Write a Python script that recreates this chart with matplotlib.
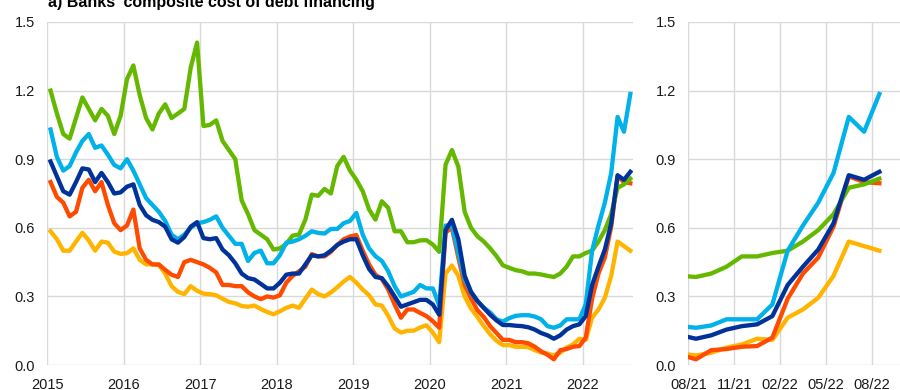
import numpy as np
import matplotlib.pyplot as plt

plt.rcParams['font.family'] = ['Liberation Sans', 'DejaVu Sans']

# monthly observations, Jan 2015 - Aug 2022
start_year = 2015
year_ticks = [2015, 2016, 2017, 2018, 2019, 2020, 2021, 2022]
zoom_ticks = ['08/21', '11/21', '02/22', '05/22', '08/22']

green = [1.20, 1.10, 1.01, 0.99, 1.08, 1.17, 1.12, 1.07, 1.12, 1.09,
         1.01, 1.09, 1.25, 1.31, 1.18, 1.08, 1.03, 1.10, 1.14, 1.08,
         1.10, 1.12, 1.30, 1.41, 1.045, 1.05, 1.07, 0.98, 0.94, 0.90,
         0.72, 0.66, 0.59, 0.57, 0.55, 0.505, 0.51, 0.53, 0.566, 0.57,
         0.636, 0.745, 0.74, 0.77, 0.75, 0.87, 0.91, 0.85, 0.81, 0.76,
         0.68, 0.636, 0.716, 0.687, 0.585, 0.585, 0.537, 0.537, 0.545, 0.546,
         0.527, 0.495, 0.876, 0.94, 0.868, 0.67, 0.60, 0.563, 0.54, 0.51,
         0.476, 0.436, 0.425, 0.415, 0.41, 0.40, 0.40, 0.396, 0.39, 0.385,
         0.40, 0.43, 0.475, 0.475, 0.49, 0.50, 0.54, 0.59, 0.66, 0.775,
         0.79, 0.815]

light_blue = [1.03, 0.91, 0.85, 0.87, 0.93, 0.98, 1.01, 0.95, 0.96, 0.92,
              0.875, 0.86, 0.90, 0.85, 0.79, 0.73, 0.70, 0.67, 0.63, 0.57,
              0.55, 0.57, 0.60, 0.62, 0.625, 0.635, 0.65, 0.60, 0.565, 0.53,
              0.53, 0.455, 0.49, 0.50, 0.445, 0.445, 0.48, 0.535, 0.54, 0.55,
              0.565, 0.585, 0.578, 0.575, 0.595, 0.595, 0.62, 0.63, 0.665, 0.57,
              0.51, 0.476, 0.455, 0.41, 0.345, 0.30, 0.31, 0.32, 0.35, 0.335,
              0.335, 0.26, 0.61, 0.61, 0.49, 0.375, 0.317, 0.28, 0.25, 0.23,
              0.20, 0.19, 0.205, 0.215, 0.218, 0.218, 0.212, 0.20, 0.17, 0.163,
              0.173, 0.20, 0.20, 0.20, 0.265, 0.50, 0.61, 0.71, 0.84, 1.085,
              1.02, 1.185]

dark_blue = [0.89, 0.825, 0.76, 0.745, 0.80, 0.86, 0.855, 0.80, 0.84, 0.80,
             0.75, 0.755, 0.78, 0.79, 0.70, 0.655, 0.635, 0.625, 0.605, 0.55,
             0.535, 0.56, 0.605, 0.625, 0.555, 0.55, 0.555, 0.505, 0.48, 0.445,
             0.40, 0.38, 0.374, 0.355, 0.335, 0.335, 0.36, 0.395, 0.40, 0.40,
             0.44, 0.48, 0.475, 0.48, 0.50, 0.525, 0.54, 0.55, 0.55, 0.48,
             0.42, 0.385, 0.38, 0.344, 0.30, 0.255, 0.265, 0.275, 0.285, 0.285,
             0.265, 0.22, 0.59, 0.635, 0.55, 0.39, 0.32, 0.28, 0.25, 0.22,
             0.195, 0.175, 0.175, 0.172, 0.17, 0.165, 0.155, 0.14, 0.13, 0.115,
             0.13, 0.155, 0.17, 0.178, 0.214, 0.35, 0.43, 0.505, 0.62, 0.83,
             0.81, 0.845]

red = [0.80, 0.735, 0.71, 0.65, 0.67, 0.775, 0.81, 0.76, 0.80, 0.70,
       0.62, 0.59, 0.61, 0.68, 0.51, 0.46, 0.44, 0.44, 0.416, 0.395,
       0.385, 0.45, 0.46, 0.45, 0.44, 0.425, 0.405, 0.35, 0.35, 0.345,
       0.345, 0.318, 0.30, 0.288, 0.30, 0.295, 0.305, 0.36, 0.39, 0.41,
       0.43, 0.485, 0.475, 0.475, 0.495, 0.525, 0.55, 0.562, 0.568, 0.50,
       0.44, 0.395, 0.376, 0.33, 0.265, 0.207, 0.243, 0.243, 0.228, 0.214,
       0.192, 0.163, 0.58, 0.60, 0.47, 0.35, 0.29, 0.24, 0.21, 0.17,
       0.14, 0.11, 0.11, 0.10, 0.10, 0.095, 0.08, 0.06, 0.045, 0.025,
       0.065, 0.07, 0.08, 0.083, 0.12, 0.29, 0.40, 0.47, 0.605, 0.825,
       0.80, 0.795]

yellow = [0.585, 0.55, 0.50, 0.50, 0.54, 0.578, 0.545, 0.50, 0.54, 0.535,
          0.496, 0.486, 0.489, 0.51, 0.46, 0.44, 0.44, 0.438, 0.40, 0.345,
          0.32, 0.31, 0.345, 0.325, 0.312, 0.31, 0.305, 0.29, 0.276, 0.27,
          0.258, 0.255, 0.26, 0.245, 0.232, 0.222, 0.235, 0.25, 0.26, 0.25,
          0.29, 0.33, 0.31, 0.30, 0.317, 0.34, 0.365, 0.385, 0.36, 0.33,
          0.305, 0.265, 0.26, 0.215, 0.16, 0.142, 0.15, 0.15, 0.164, 0.174,
          0.142, 0.10, 0.40, 0.435, 0.39, 0.30, 0.247, 0.21, 0.17, 0.135,
          0.106, 0.087, 0.087, 0.08, 0.08, 0.078, 0.065, 0.055, 0.05, 0.042,
          0.054, 0.076, 0.09, 0.115, 0.11, 0.207, 0.243, 0.294, 0.39, 0.54,
          0.52, 0.50]

series = [(yellow, '#FFB400'), (red, '#FF4B00'), (green, '#65B800'),
          (light_blue, '#00B1EA'), (dark_blue, '#003299')]

n = len(green)
t = start_year + (np.arange(n) + 0.5) / 12   # mid-month positions
zoom_from = n - 13                           # Aug 2021
tz = np.arange(n) - zoom_from + 0.5          # months since Aug 2021

fig = plt.figure(figsize=(9, 3.9), dpi=100)
ax1 = fig.add_axes([0.0526, 0.064, 0.6504, 0.8796])
ax2 = fig.add_axes([0.7648, 0.064, 0.2352, 0.8796])

for vals, col in series:
    ax1.plot(t, vals, color=col, lw=3.1, solid_joinstyle='round')
    ax2.plot(tz[zoom_from - 1:], vals[zoom_from - 1:], color=col, lw=3.1,
             solid_joinstyle='round')

ax1.set_xlim(2015, 2022.656)
ax1.set_xticks(year_ticks)
ax1.set_xticklabels([str(y) for y in year_ticks])
ax2.set_xlim(0, 13.85)
ax2.set_xticks([0, 3, 6, 9, 12])
ax2.set_xticklabels(zoom_ticks)

for ax in (ax1, ax2):
    ax.set_ylim(0, 1.5)
    ax.set_yticks([0.0, 0.3, 0.6, 0.9, 1.2, 1.5])
    ax.set_yticklabels(['0.0', '0.3', '0.6', '0.9', '1.2', '1.5'])
    ax.grid(True, color='#d9d9d9', lw=1)
    ax.set_axisbelow(True)
    for s in ax.spines.values():
        s.set_visible(False)
    ax.tick_params(length=0, labelsize=10.5, colors='#1a1a1a', pad=9)
    ax.tick_params(axis='y', pad=9)

fig.text(48 / 900, 1 - 7 / 390, "a) Banks' composite cost of debt financing",
         fontsize=11.5, fontweight='bold', va='baseline', ha='left')

fig.savefig('out.png', dpi=100)
